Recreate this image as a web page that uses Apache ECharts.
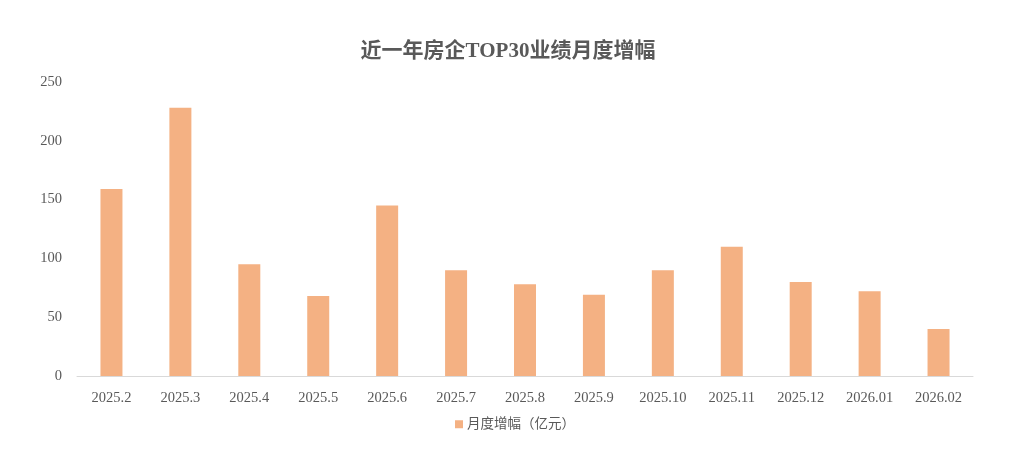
<!DOCTYPE html>
<html><head><meta charset="utf-8">
<script src="https://cdn.jsdelivr.net/npm/echarts@6/dist/echarts.min.js"></script>
<style>html,body{margin:0;padding:0;background:#fff}#c{width:1016px;height:466px}</style>
</head><body><div id="c"></div>
<script>
const categories = ['2025.2','2025.3','2025.4','2025.5','2025.6','2025.7','2025.8','2025.9','2025.10','2025.11','2025.12','2026.01','2026.02'];
const values = [159, 228, 95, 68, 145, 90, 78, 69, 90, 110, 80, 72, 40];
const seriesName = '月度增幅（亿元）';
const titleText = '近一年房企TOP30业绩月度增幅';
const FONT = "'Liberation Serif','DejaVu Serif','Noto Sans CJK SC',serif";
const chart = echarts.init(document.getElementById('c'));
chart.setOption({
  animation: false,
  backgroundColor: '#fff',
  title: { text: titleText, left: 'center', top: 36, textStyle: { fontFamily: FONT, fontSize: 21, fontWeight: 'bold', color: '#595959' } },
  legend: { bottom: 30, left: 450, itemWidth: 8, itemHeight: 8, icon: 'rect', itemGap: 10,
    textStyle: { fontFamily: FONT, fontSize: 13.5, color: '#595959', padding: [0, 0, 0, -1] } },
  grid: { left: 77, right: 43, top: 82, bottom: 90 },
  xAxis: { type: 'category', data: categories,
    axisLine: { lineStyle: { color: '#d9d9d9' } }, axisTick: { show: false },
    axisLabel: { fontFamily: FONT, fontSize: 14.5, color: '#595959', margin: 15 } },
  yAxis: { type: 'value', min: 0, max: 250, interval: 50,
    splitLine: { show: false }, axisLine: { show: false }, axisTick: { show: false },
    axisLabel: { fontFamily: FONT, fontSize: 14.5, color: '#595959', margin: 15 } },
  series: [{ name: seriesName, type: 'bar', data: values, barWidth: 22, itemStyle: { color: '#F4B183' } }]
});
</script></body></html>
